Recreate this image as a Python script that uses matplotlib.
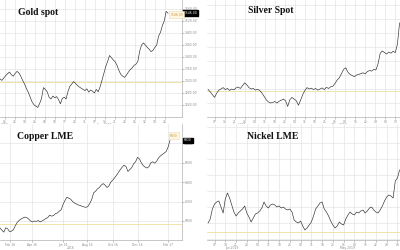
import numpy as np
import matplotlib
matplotlib.use("Agg")
import matplotlib.pyplot as plt
import matplotlib.transforms as mtransforms

# values (daily closes, rough)
gold = [1327, 1322, 1330, 1338, 1344, 1350, 1341, 1336, 1345, 1352,
        1347, 1336, 1322, 1310, 1295, 1282, 1266, 1250, 1241, 1236,
        1232, 1245, 1262, 1298, 1292, 1284, 1266, 1260, 1270, 1264,
        1268, 1258, 1244, 1262, 1266, 1260, 1285, 1302, 1310, 1318,
        1312, 1305, 1300, 1296, 1292, 1288, 1294, 1283, 1290, 1286,
        1280, 1292, 1284, 1300, 1322, 1345, 1368, 1385, 1405, 1398,
        1390, 1384, 1372, 1355, 1342, 1336, 1332, 1340, 1350, 1358,
        1364, 1372, 1376, 1385, 1420, 1440, 1447, 1440, 1432, 1426,
        1418, 1422, 1432, 1440, 1470, 1482, 1505, 1520, 1552, 1546]

silver = [14.98, 14.90, 14.80, 14.70, 14.85, 14.96, 15.00, 15.05, 14.98, 15.02,
          14.95, 15.00, 14.97, 15.04, 15.07, 15.02, 15.12, 15.22, 15.15, 15.05,
          15.00, 15.02, 14.96, 14.99, 14.95, 14.86, 14.74, 14.62, 14.54, 14.50,
          14.52, 14.55, 14.50, 14.56, 14.60, 14.64, 14.58, 14.38, 14.62, 14.70,
          14.64, 14.58, 14.42, 14.60, 14.80, 14.95, 15.05, 15.00, 15.03, 14.98,
          15.02, 14.96, 15.00, 15.04, 14.98, 15.06, 15.02, 15.08, 15.10, 15.20,
          15.32, 15.40, 15.55, 15.70, 15.76, 15.60, 15.52, 15.48, 15.44, 15.50,
          15.52, 15.55, 15.58, 15.54, 15.62, 15.66, 15.64, 15.70, 15.68, 15.90,
          16.28, 16.36, 16.30, 16.25, 16.32, 16.28, 16.35, 16.30, 16.60, 17.36]

copper = [5928, 5905, 5885, 5930, 5920, 5890, 5895, 5910, 5950, 5985,
          6005, 6020, 6030, 6040, 6035, 6020, 6000, 5990, 6000, 5995,
          6005, 5990, 6000, 6012, 6025, 6035, 6060, 6050, 6055, 6075,
          6082, 6100, 6115, 6170, 6210, 6245, 6235, 6225, 6200, 6185,
          6175, 6165, 6160, 6150, 6145, 6140, 6150, 6180, 6220, 6290,
          6305, 6330, 6345, 6370, 6385, 6370, 6345, 6360, 6400, 6420,
          6445, 6470, 6500, 6530, 6555, 6575, 6560, 6510, 6530, 6550,
          6590, 6610, 6655, 6640, 6600, 6570, 6555, 6545, 6560, 6600,
          6610, 6595, 6615, 6650, 6670, 6685, 6700, 6715, 6760, 6830]

nickel = [12000, 12200, 12700, 12950, 13050, 13100, 12800, 12500, 13200, 13500,
          13250, 12900, 12550, 12350, 12500, 12600, 12700, 12850, 12500, 12300,
          12050, 12250, 12450, 12500, 12600, 12750, 13050, 12850, 12750, 12900,
          12950, 12900, 12800, 12850, 12750, 12800, 12700, 12650, 12700, 12550,
          12150, 12050, 12000, 12100, 11850, 11650, 11750, 11900, 12050, 12350,
          12700, 12850, 13000, 13050, 12700, 12550, 12350, 12100, 11900, 11750,
          11850, 12050, 11950, 11900, 12200, 12400, 12550, 12450, 12400, 12550,
          12500, 12600, 12650, 12500, 12600, 12750, 12800, 12650, 12550, 12500,
          12650, 12850, 13100, 13300, 13400, 13350, 13250, 14100, 14250, 14650]

# horizontal reference levels (pale lines)
gold_ref = 1317
silver_ref = 14.93
copper_ref = 5969
nickel_ref = 11550

gold_xlabels = ["05", "12", "19", "26", "03", "10", "17", "24", "31", "07",
                "14", "21", "28", "05", "12", "19", "26"]
silver_xlabels = ["07", "14", "21", "28", "04", "11", "18", "25", "04", "11",
                  "18", "25", "01", "08", "15", "22", "29", "06", "13"]
nickel_xlabels = ["07", "14", "21", "28", "04", "11", "18", "25", "04", "11",
                  "18", "25", "01", "08", "15", "22", "29", "06"]
copper_xlabels = ["Feb 16", "Apr 16", "Jun 16", "Aug 16", "Oct 16", "Dec 16", "Feb 17"]

LINE = "#2a2a2a"
GRID = "#e4e4e4"
REF = "#eedfa0"
TICK = "#8a8a8a"


def draw_panel(fig, rect, values, ref, title, title_pos, xlim, ylim, ystep,
               xticks, xlabels, sub_labels, right_axis=True, value_fmt="%.2f",
               note_pos=None):
    ax = fig.add_axes(rect)
    x = np.arange(len(values))
    ax.set_xlim(*xlim)
    ax.set_ylim(*ylim)

    ax.set_yticks(np.arange(ylim[0] - ylim[0] % ystep + ystep, ylim[1], ystep))
    if isinstance(xticks, tuple):
        start, step = xticks
        xticks = start + step * np.arange(len(xlabels))
    ax.set_xticks(xticks)
    ax.set_xticklabels(xlabels)
    ax.grid(True, color=GRID, linewidth=0.5)
    ax.set_axisbelow(True)

    ax.axhline(ref, color=REF, linewidth=0.6, zorder=2)
    ax.plot(x, values, color=LINE, linewidth=0.45, zorder=3)

    for s in ("top", "left"):
        ax.spines[s].set_visible(False)
    ax.spines["bottom"].set_color("#b0b0b0")
    ax.spines["bottom"].set_linewidth(0.5)
    ax.spines["right"].set_color("#b0b0b0")
    ax.spines["right"].set_linewidth(0.5)
    ax.spines["right"].set_visible(right_axis)

    ax.yaxis.tick_right()
    ax.tick_params(axis="both", labelsize=2.2, colors=TICK, length=1.2,
                   width=0.4, pad=0.8)
    if not right_axis:
        ax.tick_params(axis="y", labelright=False, length=0)
    else:
        ax.yaxis.set_major_formatter(matplotlib.ticker.FormatStrFormatter(value_fmt))

    # sub labels (month / year) under the ticks
    trans = mtransforms.blended_transform_factory(ax.transData, ax.transAxes)
    for xpos, txt in sub_labels:
        ax.text(xpos, -0.055, txt, transform=trans, fontsize=2.2, color=TICK,
                ha="center", va="top")

    ax.text(title_pos[0], title_pos[1], title, transform=ax.transAxes,
            family="Liberation Serif", fontweight="bold", fontsize=7,
            color="#111111", ha="center", va="center")

    if right_axis:
        # last value flag on the axis
        ytrans = mtransforms.blended_transform_factory(ax.transAxes, ax.transData)
        ax.text(1.012, values[-1], value_fmt % values[-1], transform=ytrans,
                fontsize=2.2, color="white", ha="left", va="center",
                bbox=dict(boxstyle="square,pad=0.25", fc="black", ec="black"),
                clip_on=False)
    if note_pos is not None:
        ax.text(note_pos[0], note_pos[1], value_fmt % values[-1],
                transform=ax.transAxes, fontsize=2.2, color="#c89a3a",
                ha="left", va="center",
                bbox=dict(boxstyle="square,pad=0.5", fc="#fdf6e3", ec="#efd9a8",
                          lw=0.4))
    return ax


fig = plt.figure(figsize=(4, 2.5), dpi=100)

draw_panel(fig, [0.0, 0.532, 0.455, 0.468], gold, gold_ref, "Gold spot",
           (0.21, 0.89), (0, 96.4), (1200, 1590), 40,
           (2.6, 5.3), gold_xlabels,
           [(2.6, "2019"), (55.0, "Sep 2019")], note_pos=(0.935, 0.875))

draw_panel(fig, [0.5175, 0.532, 0.4825, 0.468], silver, silver_ref, "Silver Spot",
           (0.33, 0.91), (-0.5, 89.2), (14.0, 18.18), 0.5,
           (3.0, 4.67), silver_xlabels,
           [(14.5, "Jan 2019"), (61.0, "May 2019")], right_axis=False)

draw_panel(fig, [0.0, 0.04, 0.455, 0.464], copper, copper_ref, "Copper LME",
           (0.25, 0.89), (0, 95.3), (5804, 6999), 200,
           [5.2, 16.8, 33.0, 45.5, 59.0, 72.0, 88.0], copper_xlabels,
           [(37.0, "2016")], value_fmt="%.0f", note_pos=(0.935, 0.9))

draw_panel(fig, [0.5175, 0.04, 0.4825, 0.464], nickel, nickel_ref, "Nickel LME",
           (0.34, 0.89), (-0.5, 89.2), (11150, 16950), 800,
           (3.0, 5.0), nickel_xlabels,
           [(11.0, "Jan 2019"), (65.0, "May 2019")], right_axis=False)

fig.savefig("out.png", dpi=100)
